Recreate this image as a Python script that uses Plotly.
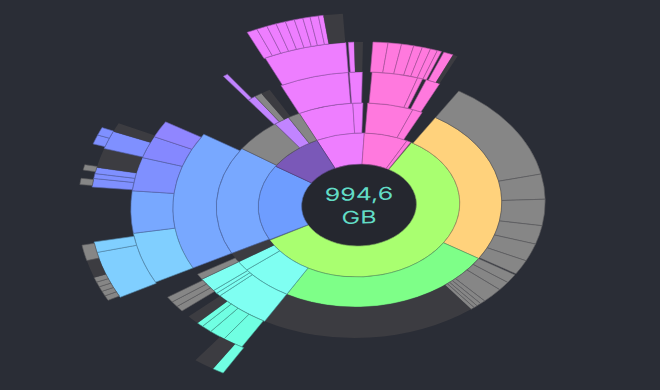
import math
import plotly.graph_objects as go

TOTAL_GB = 994.6
CENTER_LABEL = "994,6<br>GB"

# Ring edges, in the radial axis' units
RING_EDGES = [41, 72, 102, 133, 163, 192, 201]
# Angle (degrees clockwise from north) at which each ring's first value starts
RING_STARTS = [335, 335, 335, 323, 210, 242]

# Values in GB, clockwise round each ring (gaps are space that no folder fills)
RING1_VALUES = [77.4, 69.1, 6.9, 1.4, 580.2, 1.4, 169.9, 88.4]
RING1_KINDS = ["mag", "pink", "pink", None, "lime", None, "blue1", "purple"]

RING2_VALUES = [62.2, 11.3, 5.2, 51.1, 11.1, 16.6, 248.7, 243.1, 58.0, 15.2, 15.2,
                171.3, 53.9, 18.0, 13.8]
RING2_KINDS = ["mag", "mag", None, "pink", "pink", None, "orange", "green", "cyan", "cyan", "dark",
               "blue2", "grey", "lilac", "grey"]

RING3_VALUES = [59.7, 1.1, 11.1, 8.3, 39.2, 4.4, 3.3, 12.2, 18.2,
                123.2, 30.1, 31.8, 22.7, 21.6, 18.0, 1.4,
                11.1, 11.1, 18.8, 4.7, 4.1, 3.3, 3.3, 186.8,
                48.3, 4.1, 4.1, 16.6, 6.9, 8.3, 167.1, 56.6, 7.2, 6.6, 8.3]
RING3_KINDS = ["mag", None, "mag", None, "pink", "pink", None, "pink", None,
               "grey", "grey", "grey", "grey", "grey", "grey", None,
               "grey", "grey", "grey", "grey", "grey", "grey", "grey", "dark",
               "cyan", "cyan", "cyan", "cyan", "grey", None, "blue2", None, "lilac", "grey", "dark"]

RING4_VALUES = [3.6, 30.9, 58.6, 1.7, 4.1, 6.1, 6.9,
                10.5, 9.4, 8.6, 6.1, 5.8, 5.0, 3.0, 1.7, 6.9, 3.3, 511.7,
                14.4, 11.6, 7.5, 4.7, 8.8, 6.9, 5.5, 5.5, 5.5, 16.6,
                49.7, 41.4, 33.2, 22.1, 16.6]
RING4_KINDS = ["lilac", None, "mag", None, "mag", "dark", None,
               "pink", "pink", "pink", "pink", "pink", "pink", "pink", None, "pink", "dark", None,
               "aqua", "aqua", "aqua", "aqua", "dark", None, "grey", "grey", "grey", None,
               "sky", "blue2", "peri", "peri2", "violet"]

RING5_VALUES = [6.9, 12.4, 68.0, 39.2, 8.8, 45.3, 7.2, 4.1, 5.2, 16.3, 15.2, 7.5, 109.7,
                6.4, 6.4, 5.8, 5.8, 5.5, 5.2, 4.4, 5.0, 3.0, 11.6]
RING5_KINDS = ["aqua", "dark", None, "sky", "sky", None, "peri", "peri", "peri", "dark", "peri", "dark", None,
               "mag", "mag", "mag", "mag", "mag", "mag", "mag", "mag", "mag", "dark"]

RING6_VALUES = [3.9, 3.9, 3.9, 3.9, 3.9, 13.8, 12.4, 47.8, 5.0, 6.6, 4.4, 17.1, 7.5, 6.4]
RING6_KINDS = ["grey", "grey", "grey", "grey", "grey", "dark", "grey", None, "grey", None, "grey", None, "peri", "peri"]

BACKGROUND = "#2A2D36"
HOLE = "#25272F"
LABEL_COLOR = "#62DCC6"
PALETTE = {
    "mag": "#EE7EFF", "pink": "#FF79DE", "lime": "#A9FF70", "blue1": "#6E9DFF",
    "purple": "#7A58B8", "orange": "#FFD27C", "green": "#7EFF88", "cyan": "#7FFFF2",
    "aqua": "#70FFE2", "dark": "#3C3C41", "blue2": "#78A8FF", "grey": "#868686",
    "lilac": "#C184FF", "sky": "#80CFFF", "peri": "#7F90FF", "peri2": "#8588FF",
    "violet": "#9086FF",
}
OUTLINE = {
    "mag": "#9A56AE", "pink": "#A6529A", "lime": "#769F5C", "blue1": "#4F6AA8",
    "purple": "#4C3A74", "orange": "#98865C", "green": "#559A62", "cyan": "#459898",
    "aqua": "#42988C", "blue2": "#4F6AA8", "grey": "#5A5A5E", "lilac": "#7A58A0",
    "sky": "#5286AA", "peri": "#5662A8", "peri2": "#5662A8", "violet": "#645CA8",
}

RINGS = [
    (RING1_VALUES, RING1_KINDS), (RING2_VALUES, RING2_KINDS), (RING3_VALUES, RING3_KINDS),
    (RING4_VALUES, RING4_KINDS), (RING5_VALUES, RING5_KINDS), (RING6_VALUES, RING6_KINDS),
]

SKEW = -0.0175


def unshear(angle):
    """Compensate the angles for the slight shear applied to the whole picture below."""
    return angle + math.degrees(-SKEW * 1.4) * math.sin(math.radians(angle)) ** 2


fig = go.Figure()
fig.add_trace(go.Barpolar(r=[RING_EDGES[0]], theta=[180], width=[360], base=0,
                          marker=dict(color=HOLE, line=dict(width=0)), hoverinfo="skip"))

for i, (values, kinds) in enumerate(RINGS):
    theta, width, colors, lines, line_widths = [], [], [], [], []
    angle = RING_STARTS[i]
    for value, kind in zip(values, kinds):
        sweep = value / TOTAL_GB * 360
        if kind is not None:
            a0, a1 = unshear(angle), unshear(angle + sweep)
            theta.append((a0 + a1) / 2)
            width.append(a1 - a0)
            colors.append(PALETTE[kind])
            lines.append(OUTLINE.get(kind, "#3C3C41"))
            line_widths.append(0 if kind == "dark" else 0.5)
        angle += sweep
    fig.add_trace(go.Barpolar(
        r=[RING_EDGES[i + 1] - RING_EDGES[i]] * len(theta),
        base=[RING_EDGES[i]] * len(theta),
        theta=theta, width=width,
        marker=dict(color=colors, line=dict(color=lines, width=line_widths)),
        hoverinfo="skip",
    ))

fig.add_trace(go.Scatterpolar(r=[2.5], theta=[180], mode="text", text=[CENTER_LABEL],
                              textposition="middle center", cliponaxis=False,
                              textfont=dict(family="Inter", size=17, color=LABEL_COLOR),
                              hoverinfo="skip"))

fig.update_layout(
    width=660, height=390,
    margin=dict(l=0, r=0, t=0, b=0),
    paper_bgcolor=BACKGROUND,
    showlegend=False,
    polar=dict(
        bgcolor="rgba(0,0,0,0)",
        domain=dict(x=[0, 1], y=[0, 1]),
        barmode="overlay",
        radialaxis=dict(visible=False, range=[0, 205]),
        angularaxis=dict(visible=False, direction="clockwise", rotation=90),
    ),
)

# The reference is a circular sunburst stretched sideways and very slightly sheared, text included.
CX, CY = 359, 205
BASE_CX, BASE_CY, PX_PER_UNIT = 330, 195, 195 / 205
A, D = 1.4 / PX_PER_UNIT, 1 / PX_PER_UNIT
B = SKEW * A
E = CX - A * BASE_CX
F = CY - B * BASE_CX - D * BASE_CY
post = (
    "document.body.style.margin='0';"
    f"document.querySelector('.polarlayer').setAttribute('transform','matrix({A},{B},0,{D},{E},{F})');"
)
fig.write_html("out.html", post_script=post, config={"displayModeBar": False})
